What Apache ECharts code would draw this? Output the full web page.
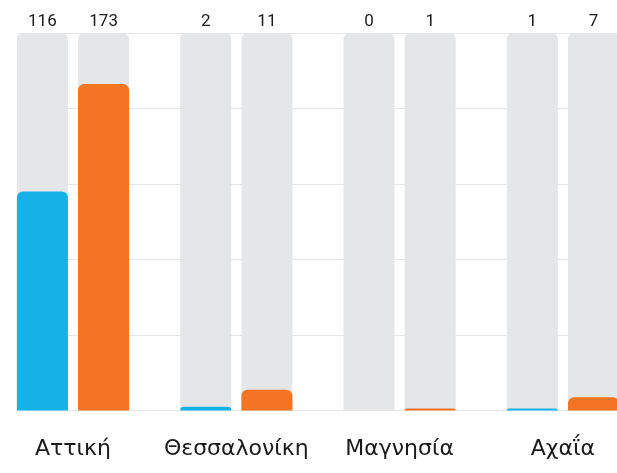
<!DOCTYPE html>
<html>
<head>
<meta charset="utf-8">
<script src="https://cdn.jsdelivr.net/npm/echarts@6/dist/echarts.min.js"></script>
<style>
html,body{margin:0;padding:0;background:#fff;overflow:hidden;width:617px;height:473px;}
#chart{position:absolute;left:-9px;top:0;width:680px;height:473px;}
</style>
</head>
<body>
<div id="chart"></div>
<script>
var categories = ['Αττική', 'Θεσσαλονίκη', 'Μαγνησία', 'Αχαΐα'];
var blueValues = [116, 2, 0, 1];
var orangeValues = [173, 11, 1, 7];
var axisMax = 200;
var axisInterval = 40;

var blueCap = blueValues.map(function (v) { return axisMax - v; });
var orangeCap = orangeValues.map(function (v) { return axisMax - v; });

var BLUE = '#16b1e6';
var ORANGE = '#f37423';
var BG = '#e5e6e8';

function capLabel(values) {
  return {
    show: true,
    position: 'top',
    distance: 3,
    color: '#1a1a1a',
    fontFamily: 'Roboto',
    fontSize: 17,
    formatter: function (p) { return String(values[p.dataIndex]); }
  };
}

var chart = echarts.init(document.getElementById('chart'));
chart.setOption({
  animation: false,
  grid: [
    { left: 0.35, right: 26.45, top: 33, bottom: 62.5 },
    { left: 26, right: 54, top: 33, bottom: 62.5 }
  ],
  xAxis: [
    {
      type: 'category',
      gridIndex: 0,
      data: categories,
      axisLine: { show: false },
      axisTick: { show: false },
      axisLabel: {
        interval: 0,
        color: '#1a1a1a',
        fontFamily: 'DejaVu Sans',
        fontSize: 22,
        margin: 28
      }
    },
    { type: 'value', gridIndex: 1, min: 0, max: 1, show: false }
  ],
  yAxis: [
    {
      type: 'value', gridIndex: 0, min: 0, max: axisMax, interval: axisInterval,
      show: false, splitLine: { show: false }
    },
    {
      type: 'value', gridIndex: 1, min: 0, max: axisMax, interval: axisInterval,
      axisLine: { show: false }, axisTick: { show: false }, axisLabel: { show: false },
      splitLine: { show: true, lineStyle: { color: '#e6e6e6', width: 1 } }
    }
  ],
  series: [
    {
      type: 'bar', name: 'blue', stack: 'a', xAxisIndex: 0, yAxisIndex: 0,
      data: blueValues, barWidth: 51,
      itemStyle: { color: BLUE, borderRadius: [6, 6, 0, 0] },
      showBackground: true,
      backgroundStyle: { color: BG, borderRadius: [6, 6, 0, 0] }
    },
    {
      type: 'bar', name: 'blueCap', stack: 'a', xAxisIndex: 0, yAxisIndex: 0,
      data: blueCap, barWidth: 51,
      itemStyle: { color: 'rgba(0,0,0,0)' },
      label: capLabel(blueValues)
    },
    {
      type: 'bar', name: 'orange', stack: 'b', xAxisIndex: 0, yAxisIndex: 0,
      data: orangeValues, barWidth: 51,
      itemStyle: { color: ORANGE, borderRadius: [6, 6, 0, 0] },
      showBackground: true,
      backgroundStyle: { color: BG, borderRadius: [6, 6, 0, 0] }
    },
    {
      type: 'bar', name: 'orangeCap', stack: 'b', xAxisIndex: 0, yAxisIndex: 0,
      data: orangeCap, barWidth: 51, barGap: '20%',
      itemStyle: { color: 'rgba(0,0,0,0)' },
      label: capLabel(orangeValues)
    }
  ]
});
</script>
</body>
</html>
